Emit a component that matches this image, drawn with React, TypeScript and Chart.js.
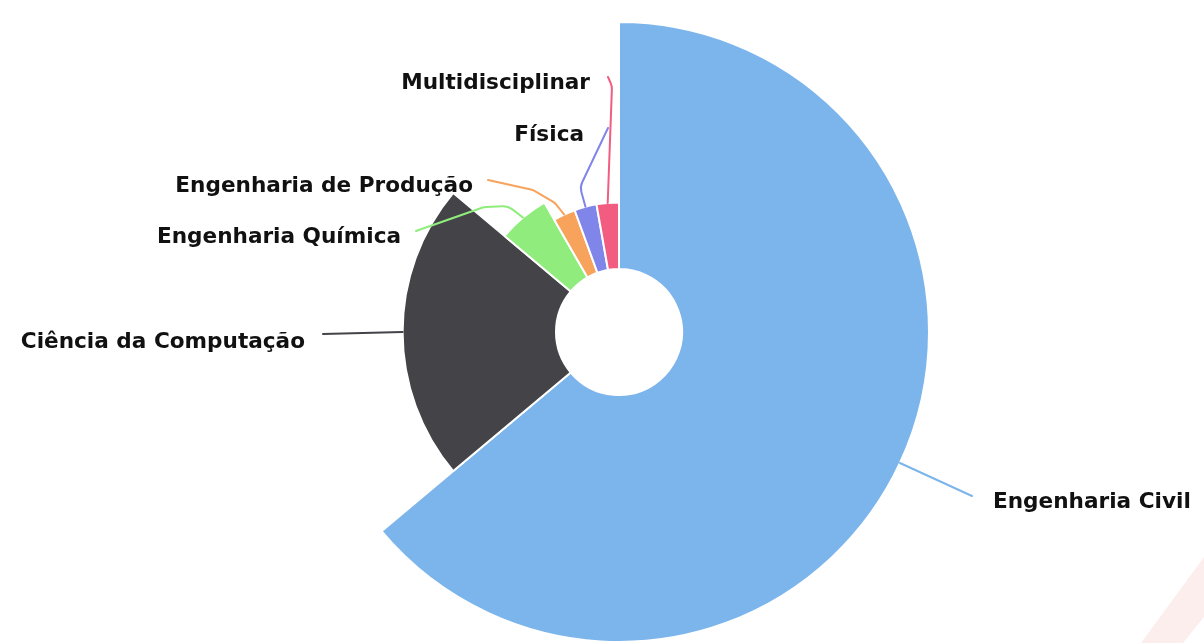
import React, { useEffect, useRef } from "react";
import { Chart, registerables } from "chart.js";

Chart.register(...registerables);

// ---- data ----
const categories = [
  "Engenharia Civil",
  "Ciência da Computação",
  "Engenharia Química",
  "Engenharia de Produção",
  "Física",
  "Multidisciplinar",
];
const counts = [23, 8, 2, 1, 1, 1];
// relative outer radius of each slice (variable pie "z")
const sizes = [100, 69.8, 48.2, 41.8, 41.8, 41.8];
const colors = ["#7cb5ec", "#434348", "#90ed7d", "#f7a35c", "#8085e9", "#f15c80"];

// ---- label layout (positions only) ----
type LabelLayout = { x: number; y: number; align: CanvasTextAlign; path: [number, number][] };
const labelLayout: LabelLayout[] = [
  { x: 993, y: 508, align: "left", path: [[972, 496]] },
  { x: 305, y: 348, align: "right", path: [[323, 334]] },
  { x: 401, y: 243, align: "right", path: [[416, 231], [484, 207], [508, 206]] },
  { x: 473, y: 192, align: "right", path: [[488, 180], [533, 190], [555, 203]] },
  { x: 584, y: 141, align: "right", path: [[608, 128], [580, 187]] },
  { x: 590, y: 89, align: "right", path: [[608, 77], [612, 86]] },
];

const variableRadius = {
  id: "variableRadius",
  afterDatasetsUpdate(chart: any) {
    const meta = chart.getDatasetMeta(0);
    const maxR = meta.controller.outerRadius;
    meta.data.forEach((arc: any, i: number) => {
      arc.outerRadius = (maxR * sizes[i]) / 100;
    });
  },
};

const decor = {
  id: "decor",
  beforeDraw(chart: any) {
    const ctx = chart.ctx;
    ctx.save();
    ctx.fillStyle = "#fdeeee";
    ctx.beginPath();
    ctx.moveTo(1141, 643);
    ctx.lineTo(1204, 557);
    ctx.lineTo(1204, 617);
    ctx.lineTo(1183, 643);
    ctx.closePath();
    ctx.fill();
    ctx.restore();
  },
};

const labels = {
  id: "pieLabels",
  afterDatasetsDraw(chart: any) {
    const ctx = chart.ctx;
    const meta = chart.getDatasetMeta(0);
    ctx.save();
    meta.data.forEach((arc: any, i: number) => {
      const lay = labelLayout[i];
      const mid = (arc.startAngle + arc.endAngle) / 2;
      const ex = arc.x + Math.cos(mid) * arc.outerRadius;
      const ey = arc.y + Math.sin(mid) * arc.outerRadius;
      const pts: [number, number][] = [...lay.path, [ex, ey]];
      ctx.strokeStyle = colors[i];
      ctx.lineWidth = 2;
      ctx.lineCap = "round";
      ctx.beginPath();
      ctx.moveTo(pts[0][0], pts[0][1]);
      for (let k = 1; k < pts.length - 1; k++) {
        ctx.arcTo(pts[k][0], pts[k][1], pts[k + 1][0], pts[k + 1][1], 14);
      }
      ctx.lineTo(pts[pts.length - 1][0], pts[pts.length - 1][1]);
      ctx.stroke();

      ctx.font = "bold 21.6px 'DejaVu Sans'";
      ctx.textAlign = lay.align;
      ctx.textBaseline = "alphabetic";
      ctx.lineJoin = "round";
      ctx.strokeStyle = "#ffffff";
      ctx.lineWidth = 2;
      ctx.strokeText(categories[i], lay.x, lay.y);
      ctx.fillStyle = "#111111";
      ctx.fillText(categories[i], lay.x, lay.y);
    });
    ctx.restore();
  },
};

export default function App() {
  const ref = useRef<HTMLCanvasElement | null>(null);
  useEffect(() => {
    if (!ref.current) return;
    const chart = new Chart(ref.current, {
      type: "pie",
      data: {
        labels: categories,
        datasets: [
          {
            data: counts,
            backgroundColor: colors,
            borderColor: "#ffffff",
            borderWidth: 2,
          },
        ],
      },
      options: {
        responsive: false,
        animation: false,
        events: [],
        cutout: 63,
        rotation: 0,
        layout: { padding: { left: 34, top: 21, bottom: -3, right: 0 } },
        plugins: { legend: { display: false }, tooltip: { enabled: false } },
      },
      plugins: [decor, variableRadius, labels],
    });
    return () => chart.destroy();
  }, []);
  return (
    <div style={{ position: "fixed", left: 0, top: 0, width: 1204, height: 643, background: "#fff" }}>
      <canvas ref={ref} width={1204} height={643} style={{ display: "block" }} />
    </div>
  );
}
